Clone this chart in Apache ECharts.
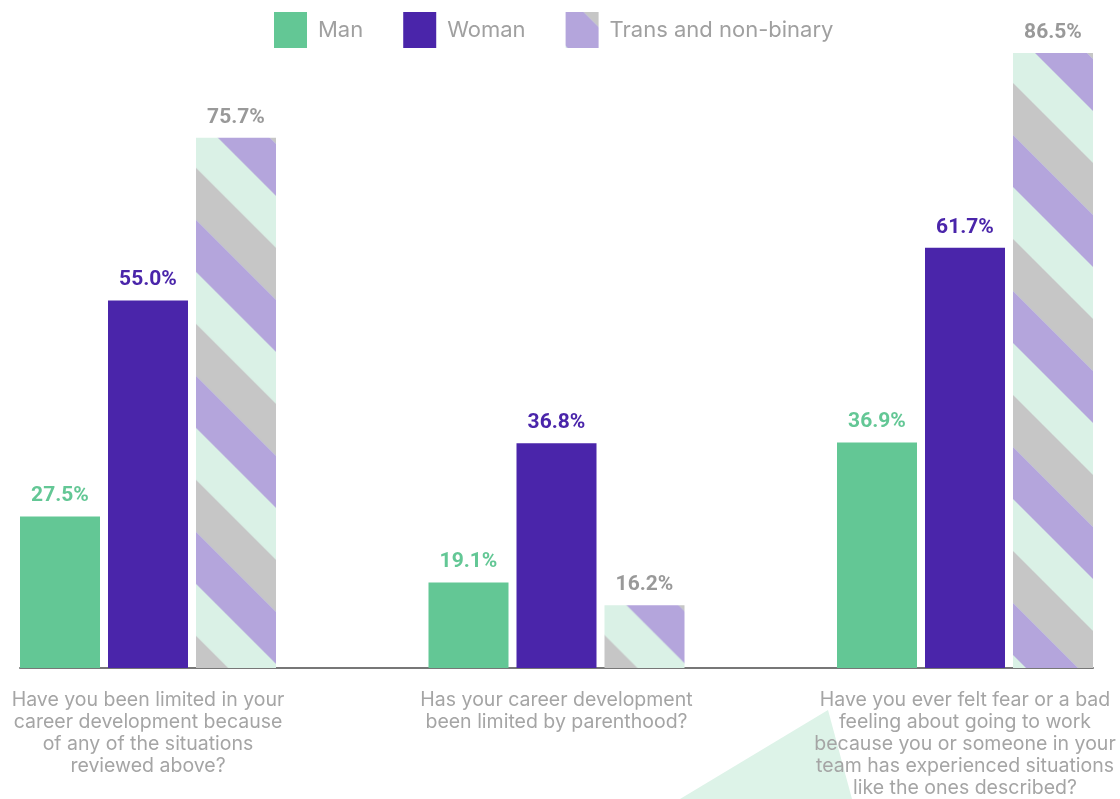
<!DOCTYPE html>
<html>
<head>
<meta charset="utf-8">
<script src="https://cdn.jsdelivr.net/npm/echarts@6/dist/echarts.min.js"></script>
<style>
  html, body { margin: 0; padding: 0; background: #fff; }
  #chart { width: 1120px; height: 799px; }
</style>
</head>
<body>
<div id="chart"></div>
<script>
// data
const questions = [
  'Have you been limited in your\ncareer development because\nof any of the situations\nreviewed above?',
  'Has your career development\nbeen limited by parenthood?',
  'Have you ever felt fear or a bad\nfeeling about going to work\nbecause you or someone in your\nteam has experienced situations\nlike the ones described?',
];
const groups = ['Man', 'Woman', 'Trans and non-binary'];
const manData = [27.5, 19.1, 36.9];
const womanData = [55.0, 36.8, 61.7];
const transData = [75.7, 16.2, 86.5];

const GREEN = '#63c795';
const PURPLE = '#4a25aa';
const MINT = '#daf1e6';
const GRAY = '#c6c6c6';
const LAVENDER = '#b4a5dc';
const BAR_W = 80;
const BAR_GAP = 8;

// diagonal stripes, mint -> gray -> lavender going down
function makeStripes() {
  const size = 156;
  const c = document.createElement('canvas');
  c.width = size;
  c.height = size;
  const ctx = c.getContext('2d');
  ctx.fillStyle = MINT;
  ctx.fillRect(0, 0, size, size);
  [[30, GRAY], [82, LAVENDER]].forEach(([d0, col]) => {
    ctx.fillStyle = col;
    for (let k = -1; k <= 1; k++) {
      const a = d0 + k * size;
      const b = a + 52;
      ctx.beginPath();
      ctx.moveTo(0, a);
      ctx.lineTo(size, size + a);
      ctx.lineTo(size, size + b);
      ctx.lineTo(0, b);
      ctx.closePath();
      ctx.fill();
    }
  });
  return c;
}
const stripes = makeStripes();

const valueLabel = (color) => ({
  show: true,
  position: 'top',
  distance: 10,
  color: color,
  fontSize: 21,
  fontWeight: 'bold',
  fontFamily: 'Roboto, sans-serif',
  formatter: (p) => p.value.toFixed(1) + '%',
});

const textFont = 'Inter, "Noto Sans", sans-serif';

const chart = echarts.init(document.getElementById('chart'));
chart.setOption({
  animation: false,
  legend: {
    data: groups,
    left: 269,
    top: 7,
    icon: 'rect',
    itemWidth: 33,
    itemHeight: 36,
    itemGap: 40,
    textStyle: {
      color: '#a0a0a0',
      fontSize: 22,
      fontFamily: textFont,
      padding: [0, 0, 0, 6],
    },
  },
  graphic: [
    {
      type: 'polygon',
      z: -1,
      silent: true,
      shape: { points: [[680, 799], [828, 710], [852, 799]] },
      style: { fill: '#ddf3e8' },
    },
  ],
  grid: [
    { left: -56.25, right: -49.25, top: 25.5, bottom: 131, outerBoundsMode: 'none', containLabel: false },
    { left: 20, right: 27, top: 25.5, bottom: 131, outerBoundsMode: 'none', containLabel: false },
  ],
  xAxis: [
    {
      type: 'category',
      gridIndex: 0,
      data: questions,
      axisLine: { show: false },
      axisTick: { show: false },
      axisLabel: {
        margin: 21,
        color: '#a5a5a5',
        fontSize: 19.5,
        lineHeight: 22,
        fontFamily: textFont,
        align: 'center',
      },
    },
    {
      type: 'value',
      gridIndex: 1,
      min: 0,
      max: 1,
      axisLine: { show: true, lineStyle: { color: '#777', width: 2 } },
      axisTick: { show: false },
      axisLabel: { show: false },
      splitLine: { show: false },
    },
  ],
  yAxis: [
    { type: 'value', gridIndex: 0, min: 8.2, max: 90, show: false },
    { type: 'value', gridIndex: 1, min: 0, max: 1, show: false },
  ],
  series: [
    {
      name: 'Man',
      type: 'bar',
      barWidth: BAR_W,
      barGap: (BAR_GAP / BAR_W * 100) + '%',
      data: manData,
      itemStyle: { color: GREEN },
      label: valueLabel(GREEN),
    },
    {
      name: 'Woman',
      type: 'bar',
      barWidth: BAR_W,
      barGap: (BAR_GAP / BAR_W * 100) + '%',
      data: womanData,
      itemStyle: { color: PURPLE },
      label: valueLabel(PURPLE),
    },
    {
      name: 'Trans and non-binary',
      type: 'bar',
      barWidth: BAR_W,
      barGap: (BAR_GAP / BAR_W * 100) + '%',
      data: transData,
      // legend icon uses this one (local coords)
      itemStyle: { color: { image: stripes, repeat: 'repeat', x: 0, y: -100 } },
      label: valueLabel('#999999'),
    },
  ],
});

// anchor the stripes at each bar's top-left corner
const transItems = transData.map((v, i) => {
  const pt = chart.convertToPixel({ seriesIndex: 2 }, [i, v]);
  const left = pt[0] + BAR_W / 2 + BAR_GAP;
  return {
    value: v,
    itemStyle: { color: { image: stripes, repeat: 'repeat', x: left, y: pt[1] } },
  };
});
chart.setOption({ series: [{}, {}, { data: transItems }] });
</script>
</body>
</html>
